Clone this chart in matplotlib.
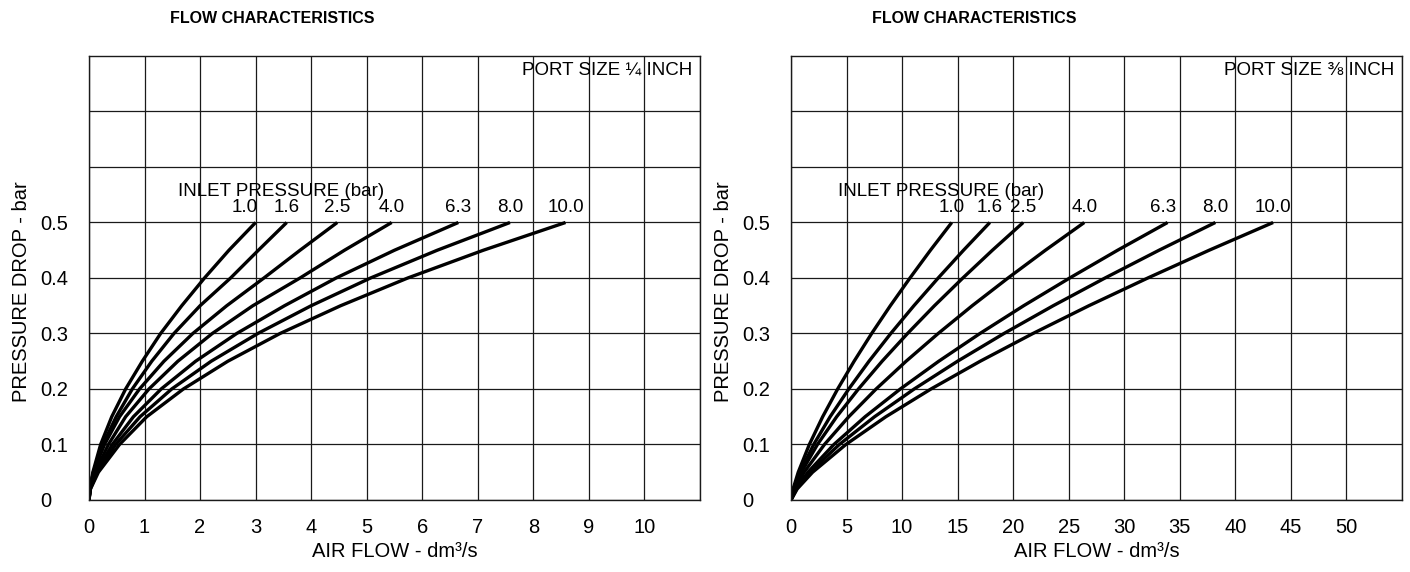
import matplotlib
matplotlib.use("Agg")
import matplotlib.pyplot as plt

plt.rcParams['font.family'] = ['Liberation Sans', 'DejaVu Sans']

# inlet pressures (bar), one curve each
inlet = ["1.0", "1.6", "2.5", "4.0", "6.3", "8.0", "10.0"]

drop = [0, 0.02, 0.05, 0.1, 0.15, 0.2, 0.25, 0.3, 0.35, 0.4, 0.45, 0.5]

# port size 1/4 inch - air flow dm3/s
flow_quarter = [
    [0, 0.015, 0.07, 0.21, 0.41, 0.66, 0.96, 1.29, 1.67, 2.08, 2.52, 3.0],
    [0, 0.018, 0.08, 0.25, 0.49, 0.78, 1.13, 1.53, 2.0, 2.55, 3.05, 3.56],
    [0, 0.016, 0.08, 0.28, 0.55, 0.91, 1.35, 1.87, 2.48, 3.15, 3.8, 4.47],
    [0, 0.018, 0.11, 0.35, 0.66, 1.08, 1.6, 2.22, 2.95, 3.8, 4.6, 5.45],
    [0, 0.022, 0.13, 0.42, 0.8, 1.3, 1.92, 2.66, 3.52, 4.45, 5.5, 6.65],
    [0, 0.025, 0.15, 0.48, 0.92, 1.49, 2.2, 3.04, 4.0, 5.07, 6.27, 7.58],
    [0, 0.028, 0.17, 0.55, 1.04, 1.7, 2.5, 3.44, 4.53, 5.74, 7.1, 8.58],
]

# port size 3/8 inch - air flow dm3/s
flow_three_eighths = [
    [0, 0.19, 0.65, 1.65, 2.85, 4.2, 5.68, 7.26, 8.94, 10.71, 12.55, 14.47],
    [0, 0.23, 0.8, 2.04, 3.52, 5.2, 7.02, 8.98, 11.06, 13.25, 15.53, 17.9],
    [0, 0.27, 0.93, 2.38, 4.11, 6.07, 8.2, 10.49, 12.91, 15.47, 18.13, 20.9],
    [0, 0.34, 1.18, 3.01, 5.2, 7.66, 10.36, 13.25, 16.31, 19.54, 22.9, 26.4],
    [0, 0.44, 1.52, 3.86, 6.67, 9.84, 13.3, 17.01, 20.94, 25.09, 29.4, 33.9],
    [0, 0.5, 1.71, 4.35, 7.52, 11.09, 14.99, 19.17, 23.6, 28.27, 33.13, 38.2],
    [0, 0.56, 1.94, 4.94, 8.54, 12.6, 17.03, 21.78, 26.81, 32.12, 37.64, 43.4],
]

y_ticks = [0, 0.1, 0.2, 0.3, 0.4, 0.5, 0.6, 0.7]
y_labels = ["0", "0.1", "0.2", "0.3", "0.4", "0.5", "", ""]

fig = plt.figure(figsize=(14.1, 5.72), dpi=100)

panels = [
    dict(rect=[0.0631, 0.1259, 0.4333, 0.7762], flows=flow_quarter, xmax=11, step=1,
         last=10, port="PORT SIZE \u00bc INCH", inlet_x=1.6, shift={"1.0": -0.2}),
    dict(rect=[0.561, 0.1259, 0.4333, 0.7762], flows=flow_three_eighths, xmax=55, step=5,
         last=50, port="PORT SIZE \u215c INCH", inlet_x=4.2, shift={"6.3": -0.4}),
]

for p in panels:
    ax = fig.add_axes(p["rect"])
    for name, xs in zip(inlet, p["flows"]):
        ax.plot(xs, drop, color="black", lw=2.4, solid_capstyle="butt")
        ax.text(xs[-1] + p["shift"].get(name, 0), 0.512, name, ha="center", va="bottom",
                fontsize=13.5)

    ax.set_xlim(0, p["xmax"])
    ax.set_ylim(0, 0.8)
    ax.set_xticks(range(0, p["last"] + 1, p["step"]))
    ax.set_xticks(range(0, p["xmax"] + 1, p["step"]), minor=True)
    ax.set_yticks(y_ticks)
    ax.set_yticklabels(y_labels, ha="left")
    ax.tick_params(axis="both", which="both", length=0, labelsize=14.5)
    ax.tick_params(axis="y", pad=35)
    ax.tick_params(axis="x", pad=13)
    ax.grid(True, which="both", color="#1a1a1a", lw=0.9)
    for s in ax.spines.values():
        s.set_linewidth(1.0)
        s.set_color("#1a1a1a")

    ax.set_xlabel("AIR FLOW - dm\u00b3/s", fontsize=14.5)
    ax.xaxis.set_label_coords(0.5, -0.095)
    ax.set_ylabel("PRESSURE DROP - bar", fontsize=14.5)
    ax.yaxis.set_label_coords(-0.095, 0.47)

    ax.text(0.988, 0.968, p["port"], ha="right", va="center", fontsize=13.5,
            transform=ax.transAxes)
    ax.text(p["inlet_x"], 0.555, "INLET PRESSURE (bar)", ha="left", va="center", fontsize=13.5)

    fig.text(p["rect"][0] + 0.30 * p["rect"][2], 0.968, "FLOW CHARACTERISTICS",
             ha="center", va="center", fontsize=11.5, fontweight="bold",
             family=["Liberation Sans Narrow", "Liberation Sans", "DejaVu Sans"])

fig.savefig("out.png", dpi=100)
